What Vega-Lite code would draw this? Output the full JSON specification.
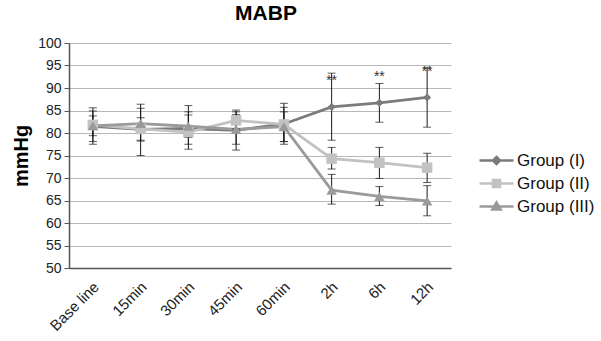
{
  "$schema": "https://vega.github.io/schema/vega-lite/v6.json",
  "width": 382,
  "height": 225,
  "autosize": "none",
  "padding": {"left": 69, "top": 43, "right": 150, "bottom": 73},
  "background": "white",
  "title": {"text": "MABP", "font": "Liberation Sans", "fontSize": 21, "fontWeight": "bold", "color": "#000000", "anchor": "middle", "offset": 12, "dx": 6},
  "datasets": {
    "stats": [
      {"time": "Base line", "group": "Group (I)", "mean": 81.5, "lo": 77.5, "hi": 85.6},
      {"time": "Base line", "group": "Group (II)", "mean": 81.8, "lo": 78.1, "hi": 84.9},
      {"time": "Base line", "group": "Group (III)", "mean": 81.6, "lo": 79.4, "hi": 83.8},
      {"time": "15min", "group": "Group (I)", "mean": 80.8, "lo": 75.0, "hi": 86.4},
      {"time": "15min", "group": "Group (II)", "mean": 80.9, "lo": 78.4, "hi": 83.4},
      {"time": "15min", "group": "Group (III)", "mean": 82.1, "lo": 78.2, "hi": 85.5},
      {"time": "30min", "group": "Group (I)", "mean": 81.0, "lo": 76.4, "hi": 86.1},
      {"time": "30min", "group": "Group (II)", "mean": 80.2, "lo": 77.5, "hi": 84.7},
      {"time": "30min", "group": "Group (III)", "mean": 81.5, "lo": 79.0, "hi": 84.0},
      {"time": "45min", "group": "Group (I)", "mean": 80.6, "lo": 76.2, "hi": 85.1},
      {"time": "45min", "group": "Group (II)", "mean": 82.8, "lo": 80.9, "hi": 84.7},
      {"time": "45min", "group": "Group (III)", "mean": 80.8, "lo": 77.5, "hi": 84.1},
      {"time": "60min", "group": "Group (I)", "mean": 82.0, "lo": 77.5, "hi": 86.6},
      {"time": "60min", "group": "Group (II)", "mean": 81.9, "lo": 78.1, "hi": 85.7},
      {"time": "60min", "group": "Group (III)", "mean": 81.4, "lo": 78.1, "hi": 84.7},
      {"time": "2h", "group": "Group (I)", "mean": 85.8, "lo": 78.4, "hi": 93.3},
      {"time": "2h", "group": "Group (II)", "mean": 74.3, "lo": 72.0, "hi": 76.8},
      {"time": "2h", "group": "Group (III)", "mean": 67.3, "lo": 64.2, "hi": 70.8},
      {"time": "6h", "group": "Group (I)", "mean": 86.7, "lo": 82.4, "hi": 91.0},
      {"time": "6h", "group": "Group (II)", "mean": 73.4, "lo": 69.9, "hi": 76.8},
      {"time": "6h", "group": "Group (III)", "mean": 65.9, "lo": 63.9, "hi": 68.1},
      {"time": "12h", "group": "Group (I)", "mean": 87.9, "lo": 81.3, "hi": 94.6},
      {"time": "12h", "group": "Group (II)", "mean": 72.3, "lo": 69.0, "hi": 75.5},
      {"time": "12h", "group": "Group (III)", "mean": 64.9, "lo": 61.6, "hi": 68.3}
    ],
    "stars": [
      {"time": "2h", "label": "**", "y": 91.6},
      {"time": "6h", "label": "**", "y": 92.4},
      {"time": "12h", "label": "**", "y": 93.5}
    ]
  },
  "config": {
    "view": {"stroke": null},
    "font": "Liberation Sans",
    "axis": {"labelFont": "Liberation Sans", "titleFont": "Liberation Sans", "labelColor": "#222222", "titleColor": "#000000"},
    "axisY": {"titleFontSize": 20, "titleFontWeight": "bold", "titlePadding": 6, "labelFontSize": 14,
      "grid": true, "gridColor": "#b8b8b8", "gridWidth": 1.2, "domainColor": "#555555", "domainWidth": 1.5,
      "tickColor": "#555555", "tickSize": 5, "labelPadding": 3},
    "axisX": {"labelAngle": -45, "labelFontSize": 15, "ticks": false, "domainColor": "#555555", "domainWidth": 1.5, "labelPadding": 11, "labelOffset": -2, "grid": false}
  },
  "layer": [
    {
      "data": {"name": "stats"},
      "mark": {"type": "line", "strokeWidth": 2.8},
      "encoding": {
        "x": {"field": "time", "type": "nominal", "sort": null,
          "scale": {"type": "point", "padding": 0.5}, "axis": {"title": null}},
        "y": {"field": "mean", "type": "quantitative",
          "scale": {"domain": [50, 100], "nice": false, "zero": false},
          "axis": {"title": "mmHg", "values": [50, 55, 60, 65, 70, 75, 80, 85, 90, 95, 100]}},
        "color": {"field": "group", "type": "nominal",
          "scale": {"domain": ["Group (I)", "Group (II)", "Group (III)"], "range": ["#7b7b7b", "#c2c2c2", "#9a9a9a"]},
          "legend": {"title": null, "orient": "none", "legendX": 416, "legendY": 106,
            "labelFont": "Liberation Sans", "labelFontSize": 17, "labelColor": "#111111",
            "symbolSize": 400, "labelOffset": 9, "rowPadding": 3, "padding": 0, "symbolOpacity": 1,
            "encoding": {"symbols": {
              "shape": {"value": {"expr": "datum.value === 'Group (I)' ? 'M-1.7,0L1.7,0M0,-0.35L0.35,0L0,0.35L-0.35,0Z' : datum.value === 'Group (II)' ? 'M-1.7,0L1.7,0M-0.35,-0.35L0.35,-0.35L0.35,0.35L-0.35,0.35Z' : 'M-1.7,0L1.7,0M0,-0.4L0.42,0.3L-0.42,0.3Z'"}},
              "fill": {"value": {"expr": "datum.value === 'Group (I)' ? '#7b7b7b' : datum.value === 'Group (II)' ? '#c2c2c2' : '#9a9a9a'"}},
              "stroke": {"value": {"expr": "datum.value === 'Group (I)' ? '#7b7b7b' : datum.value === 'Group (II)' ? '#c2c2c2' : '#9a9a9a'"}},
              "strokeWidth": {"value": 2.5},
              "opacity": {"value": 1}
            }}}}
      }
    },
    {
      "data": {"name": "stats"},
      "mark": {"type": "errorbar", "ticks": {"size": 8, "color": "#1a1a1a"}, "rule": {"color": "#1a1a1a", "strokeWidth": 1}},
      "encoding": {
        "x": {"field": "time", "type": "nominal", "sort": null, "axis": {"title": null}},
        "y": {"field": "lo", "type": "quantitative", "axis": {"title": "mmHg", "values": [50, 55, 60, 65, 70, 75, 80, 85, 90, 95, 100]}},
        "y2": {"field": "hi"}
      }
    },
    {
      "data": {"name": "stats"},
      "transform": [{"filter": "datum.group === 'Group (I)'"}],
      "mark": {"type": "point", "filled": true, "opacity": 1, "shape": "diamond", "size": 65},
      "encoding": {
        "x": {"field": "time", "type": "nominal", "sort": null, "axis": {"title": null}},
        "y": {"field": "mean", "type": "quantitative", "axis": {"title": "mmHg", "values": [50, 55, 60, 65, 70, 75, 80, 85, 90, 95, 100]}},
        "color": {"field": "group", "type": "nominal", "legend": null}
      }
    },
    {
      "data": {"name": "stats"},
      "transform": [{"filter": "datum.group === 'Group (II)'"}],
      "mark": {"type": "point", "filled": true, "opacity": 1, "shape": "square", "size": 110},
      "encoding": {
        "x": {"field": "time", "type": "nominal", "sort": null, "axis": {"title": null}},
        "y": {"field": "mean", "type": "quantitative", "axis": {"title": "mmHg", "values": [50, 55, 60, 65, 70, 75, 80, 85, 90, 95, 100]}},
        "color": {"field": "group", "type": "nominal", "legend": null}
      }
    },
    {
      "data": {"name": "stats"},
      "transform": [{"filter": "datum.group === 'Group (III)'"}],
      "mark": {"type": "point", "filled": true, "opacity": 1, "shape": "triangle-up", "size": 110},
      "encoding": {
        "x": {"field": "time", "type": "nominal", "sort": null, "axis": {"title": null}},
        "y": {"field": "mean", "type": "quantitative", "axis": {"title": "mmHg", "values": [50, 55, 60, 65, 70, 75, 80, 85, 90, 95, 100]}},
        "color": {"field": "group", "type": "nominal", "legend": null}
      }
    },
    {
      "data": {"name": "stars"},
      "mark": {"type": "text", "fontSize": 14, "color": "#333333", "font": "Liberation Sans", "baseline": "middle"},
      "encoding": {
        "x": {"field": "time", "type": "nominal", "sort": null, "axis": {"title": null}},
        "y": {"field": "y", "type": "quantitative", "axis": {"title": "mmHg", "values": [50, 55, 60, 65, 70, 75, 80, 85, 90, 95, 100]}},
        "text": {"field": "label"}
      }
    }
  ]
}
